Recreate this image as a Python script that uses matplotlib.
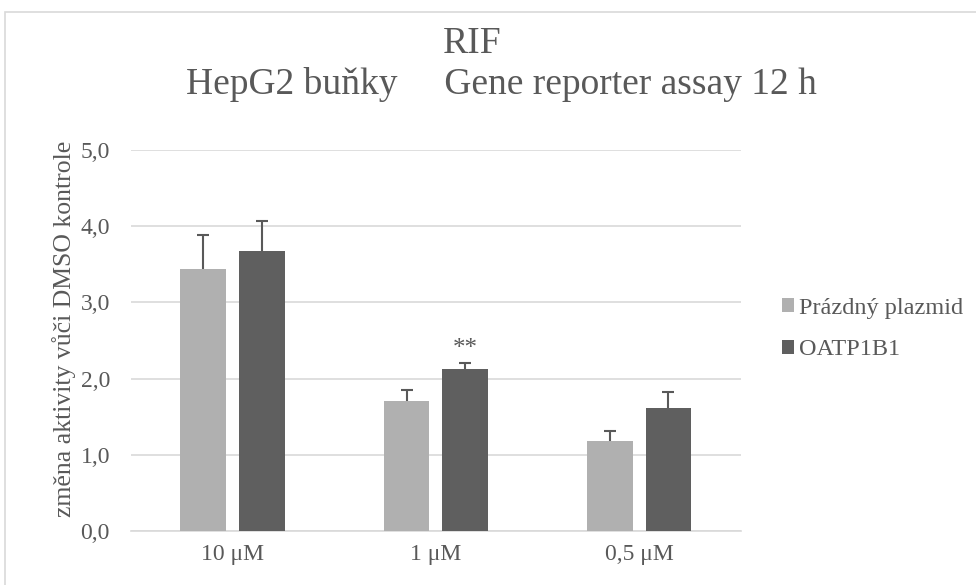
import numpy as np
import matplotlib.pyplot as plt
from matplotlib.patches import Rectangle

plt.rcParams['font.family'] = ['Liberation Serif', 'DejaVu Serif']

categories = ['10 μM', '1 μM', '0,5 μM']
empty_vals = [3.44, 1.71, 1.18]
empty_err = [0.44, 0.14, 0.13]
oatp_vals = [3.67, 2.13, 1.61]
oatp_err = [0.40, 0.08, 0.22]
series_names = ['Prázdný plazmid', 'OATP1B1']
yticks = [0, 1, 2, 3, 4, 5]

text_col = '#595959'
light = '#b0b0b0'
dark = '#5f5f5f'

fig = plt.figure(figsize=(9.76, 5.85), dpi=100)
# light frame around the chart (right/bottom edges fall outside the image)
fig.patches.append(Rectangle((0.005, -0.01), 1.0, 0.9895, transform=fig.transFigure,
                             fill=False, edgecolor='#d9d9d9', linewidth=1.2))
ax = fig.add_axes([0.134, 0.0923, 0.625, 0.6513])

x = np.arange(len(categories))
w = 0.225
off = 0.144
ax.bar(x - off, empty_vals, w, color=light, label=series_names[0], zorder=3)
ax.bar(x + off, oatp_vals, w, color=dark, label=series_names[1], zorder=3)

# error bars: upper part only, cap on top
for xs, vals, errs in [(x - off, empty_vals, empty_err), (x + off, oatp_vals, oatp_err)]:
    tops = np.array(vals) + np.array(errs)
    ax.vlines(xs, vals, tops, color=text_col, linewidth=1.5, zorder=4)
    ax.plot(xs, tops, ls='none', marker='_', markersize=9, markeredgewidth=1.5,
            color=text_col, zorder=4)

ax.text(1 + off, oatp_vals[1] + oatp_err[1] + 0.03, '**', ha='center', va='bottom',
        fontsize=18, color=text_col)

ax.set_xlim(-0.5, 2.5)
ax.set_ylim(0, 5)
ax.set_yticks(yticks)
ax.set_yticklabels([f'{v:.1f}'.replace('.', ',') for v in yticks])
ax.set_xticks(x)
ax.set_xticklabels(categories)
ax.tick_params(length=0, labelsize=17, colors=text_col)
ax.tick_params(axis='y', pad=15)
ax.tick_params(axis='x', pad=9)
ax.yaxis.grid(True, color='#d9d9d9', linewidth=1.2, zorder=0)
for s in ['top', 'right', 'left']:
    ax.spines[s].set_visible(False)
ax.spines['bottom'].set_color('#d9d9d9')
ax.spines['bottom'].set_linewidth(1.2)
ax.set_ylabel('změna aktivity vůči DMSO kontrole', fontsize=18.5, color=text_col)
ax.yaxis.set_label_coords(-0.09, 0.53)

fig.text(0.484, 0.925, 'RIF', ha='center', va='center', fontsize=27, color=text_col)
fig.text(0.514, 0.855, 'HepG2 buňky     Gene reporter assay 12 h', ha='center', va='center',
         fontsize=27, color=text_col)

ax.legend(loc='center left', bbox_to_anchor=(1.052, 0.53), frameon=False, fontsize=17.5,
          labelcolor=text_col, handlelength=0.5, handleheight=0.5, handletextpad=0.2,
          labelspacing=0.85, borderaxespad=0)

fig.savefig('out.png', dpi=100)
